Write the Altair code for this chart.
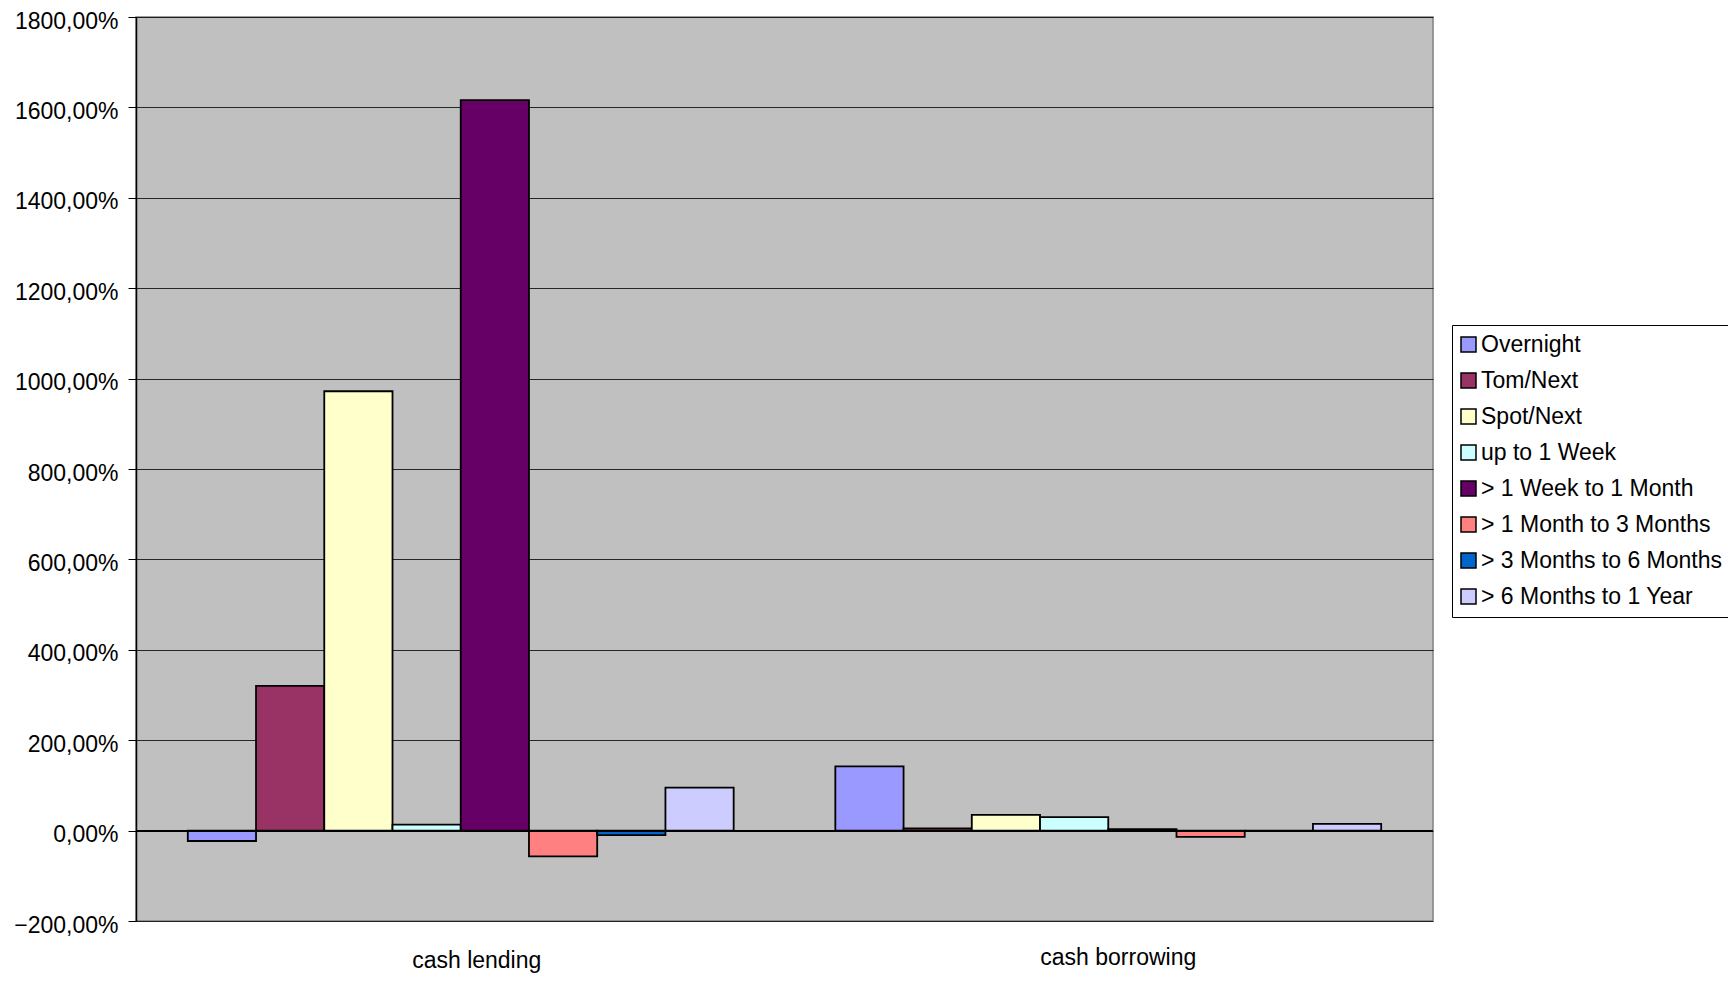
import altair as alt
import pandas as pd

categories = ["cash lending", "cash borrowing"]
series = ["Overnight", "Tom/Next", "Spot/Next", "up to 1 Week",
          "> 1 Week to 1 Month", "> 1 Month to 3 Months",
          "> 3 Months to 6 Months", "> 6 Months to 1 Year"]
lending = [-23, 320, 972, 13, 1616, -57, -10, 95]
borrowing = [142, 5, 35, 30, 3, -14, 0, 15]
colors = ["#9999FF", "#993366", "#FFFFCC", "#CCFFFF",
          "#660066", "#FF8080", "#0066CC", "#CCCCFF"]
y_ticks = [-200, 0, 200, 400, 600, 800, 1000, 1200, 1400, 1600, 1800]

rows = []
for cat, vals in zip(categories, [lending, borrowing]):
    for s, v in zip(series, vals):
        rows.append({"category": cat, "series": s, "value": v})
df = pd.DataFrame(rows)

FONT = "Liberation Sans"

bars = alt.Chart(df).mark_bar(stroke="black", strokeWidth=1.8).encode(
    x=alt.X("category:N", sort=categories, title=None,
            scale=alt.Scale(paddingInner=0.157, paddingOuter=0.08),
            axis=alt.Axis(labelAngle=0, labelFontSize=23, labelFont=FONT,
                          labelColor="black", domain=False, ticks=False,
                          labelPadding={"condition": {"test": "datum.value == 'cash lending'", "value": 28}, "value": 25},
                          labelOffset={"condition": {"test": "datum.value == 'cash lending'", "value": 16}, "value": 10})),
    xOffset=alt.XOffset("series:N", sort=series,
                        scale=alt.Scale(paddingInner=0, paddingOuter=0)),
    y=alt.Y("value:Q", title=None,
            scale=alt.Scale(domain=[-200, 1800], nice=False, zero=False),
            axis=alt.Axis(values=y_ticks, labelFontSize=23, labelFont=FONT,
                          labelColor="black", tickSize=8, tickColor="black",
                          domainColor="black", domainWidth=1.5,
                          labelPadding=10, labelOffset=4, grid=True, gridColor="black",
                          gridWidth=0.8,
                          labelExpr="replace(format(datum.value, '.2f'), '.', ',') + '%'")),
    color=alt.Color("series:N", sort=series, title=None,
                    scale=alt.Scale(domain=series, range=colors),
                    legend=alt.Legend(orient="none", legendX=1316, legendY=308,
                                      symbolType="square", symbolSize=225,
                                      symbolStrokeColor="black", symbolStrokeWidth=1.5,
                                      symbolOpacity=1, symbolOffset=-3,
                                      labelFontSize=23, labelFont=FONT, labelColor="black",
                                      labelLimit=400, rowPadding=12, padding=8,
                                      fillColor="white", strokeColor="black",
                                      labelOffset=1)),
)

zero = alt.Chart(df).mark_rule(color="black", strokeWidth=1.2).encode(
    y=alt.datum(0)
)

chart = alt.layer(bars, zero).properties(
    width=1297, height=904,
    padding={"left": 128, "top": 9, "right": 295, "bottom": 55},
    autosize=alt.AutoSizeParams(type="none"),
    background="white",
).configure_view(
    fill="#C0C0C0", stroke="#808080", strokeWidth=1.5
)

chart.save("out.html", embed_options={"renderer": "svg", "actions": False})
